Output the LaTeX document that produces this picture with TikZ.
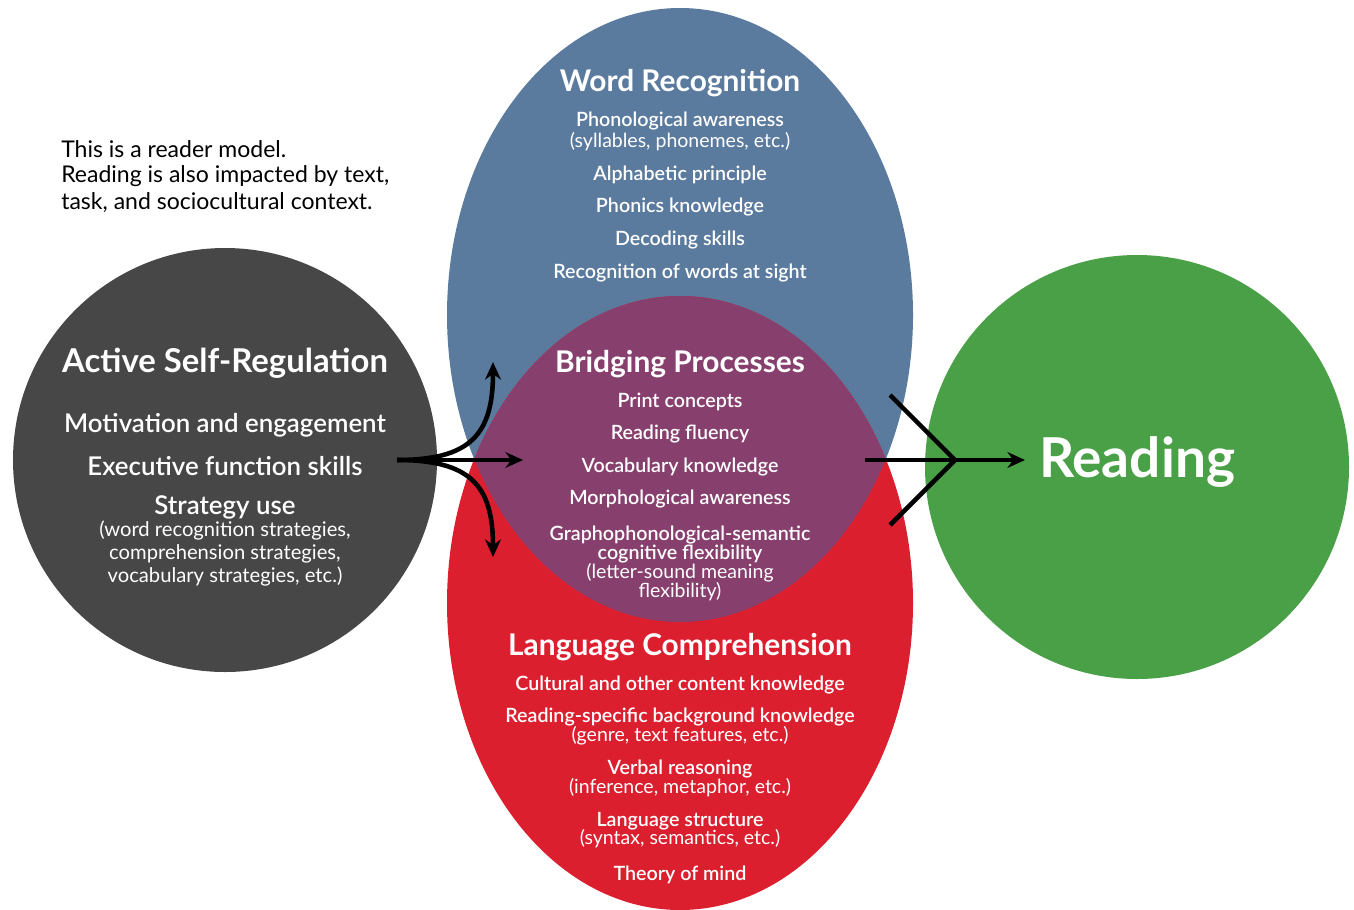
\documentclass[tikz,border=0pt]{standalone}
\usepackage{fontspec}
\setmainfont{Lato}
\newfontfamily\semib{Lato Semibold}
\usetikzlibrary{arrows.meta}

\definecolor{selfreg}{HTML}{474747}
\definecolor{wordrec}{HTML}{5A7A9E}
\definecolor{langcomp}{HTML}{DC1F2E}
\definecolor{bridge}{HTML}{873F6E}
\definecolor{reading}{HTML}{4AA046}

\begin{document}
\begin{tikzpicture}[x=0.02cm,y=-0.02cm,>={Stealth[length=10pt,width=9pt]},
                    line width=2.6pt]
  \tikzstyle{head}=[text=white,font=\bfseries\fontsize{17}{19}\selectfont]
  \tikzstyle{bighead}=[text=white,font=\bfseries\fontsize{18.7}{20}\selectfont]
  \tikzstyle{item}=[text=white,font=\semib\fontsize{11.2}{13}\selectfont]
  \tikzstyle{bigitem}=[text=white,font=\semib\fontsize{14.7}{16}\selectfont]
  \tikzstyle{sub}=[text=white,font=\fontsize{11.1}{13}\selectfont]
  \tikzstyle{bigsub}=[text=white,font=\fontsize{11.5}{13}\selectfont]
  \tikzstyle{note}=[anchor=west,inner sep=0pt,font=\fontsize{13.1}{15}\selectfont]

  \useasboundingbox (0,0) rectangle (1354,909);

  % the four discs, overlap of the two ellipses in purple
  \fill[selfreg] (225,460) circle (212);
  \fill[reading] (1137,467) circle (212);
  \fill[wordrec] (680,315) ellipse [x radius=233,y radius=307];
  \fill[langcomp] (680,603) ellipse [x radius=233,y radius=307];
  \begin{scope}
    \clip (680,315) ellipse [x radius=233,y radius=307];
    \fill[bridge] (680,603) ellipse [x radius=233,y radius=307];
  \end{scope}

  % note
  \node[note] (n1) at (59,149) {This is a reader model.};
  \node[note] (n2) at (59,176) {Reading is also impacted by text,};
  \node[note] (n3) at (59,203) {task, and sociocultural context.};

  % word recognition
  \node[head] (wr)  at (680,83)  {Word Recognition};
  \node[item] (wr1) at (680,121) {Phonological awareness};
  \node[sub]  (wr2) at (680,142) {(syllables, phonemes, etc.)};
  \node[item] (wr3) at (680,175) {Alphabetic principle};
  \node[item] (wr4) at (680,207) {Phonics knowledge};
  \node[item] (wr5) at (680,240) {Decoding skills};
  \node[item] (wr6) at (680,273) {Recognition of words at sight};

  % bridging processes
  \node[head] (bp)  at (680,364) {Bridging Processes};
  \node[item] (bp1) at (680,402) {Print concepts};
  \node[item] (bp2) at (680,434) {Reading fluency};
  \node[item] (bp3) at (680,467) {Vocabulary knowledge};
  \node[item] (bp4) at (680,499) {Morphological awareness};
  \node[item] (bp5) at (680,535) {Graphophonological-semantic};
  \node[item] (bp6) at (680,554) {cognitive flexibility};
  \node[sub]  (bp7) at (680,573) {(letter-sound meaning};
  \node[sub]  (bp8) at (680,592) {flexibility)};

  % language comprehension
  \node[head] (lc)  at (680,647) {Language Comprehension};
  \node[item] (lc1) at (680,685) {Cultural and other content knowledge};
  \node[item] (lc2) at (680,717) {Reading-specific background knowledge};
  \node[sub]  (lc3) at (680,736) {(genre, text features, etc.)};
  \node[item] (lc4) at (680,769) {Verbal reasoning};
  \node[sub]  (lc5) at (680,788) {(inference, metaphor, etc.)};
  \node[item] (lc6) at (680,821) {Language structure};
  \node[sub]  (lc7) at (680,839) {(syntax, semantics, etc.)};
  \node[item] (lc8) at (680,875) {Theory of mind};

  % active self-regulation
  \node[bighead] (sr)  at (225,363) {Active Self-Regulation};
  \node[bigitem] (sr1) at (225,425) {Motivation and engagement};
  \node[bigitem] (sr2) at (225,466) {Executive function skills};
  \node[bigitem] (sr3) at (225,507) {Strategy use};
  \node[bigsub]  (sr4) at (225,531) {(word recognition strategies,};
  \node[bigsub]  (sr5) at (225,554) {comprehension strategies,};
  \node[bigsub]  (sr6) at (225,577) {vocabulary strategies, etc.)};

  \node[text=white,font=\bfseries\fontsize{31.3}{33}\selectfont] (rd) at (1137,462) {Reading};

  % arrows out of self-regulation
  \coordinate (src) at (397,460);
  \coordinate (up)  at (493,362);
  \coordinate (mid) at (523,460);
  \coordinate (dn)  at (493,557);
  \draw[->] (src) -- (mid);
  \draw[->] (src) .. controls (470,460) and (493,435) .. (up);
  \draw[->] (src) .. controls (470,460) and (493,485) .. (dn);

  % arrows into reading
  \coordinate (in)  at (865,460);
  \coordinate (tip) at (955,460);
  \coordinate (out) at (1025,460);
  \coordinate (ua)  at (890,395);
  \coordinate (la)  at (890,525);
  \draw[->] (in) -- (out);
  \draw (ua) -- (tip) -- (la);
\end{tikzpicture}
\end{document}
